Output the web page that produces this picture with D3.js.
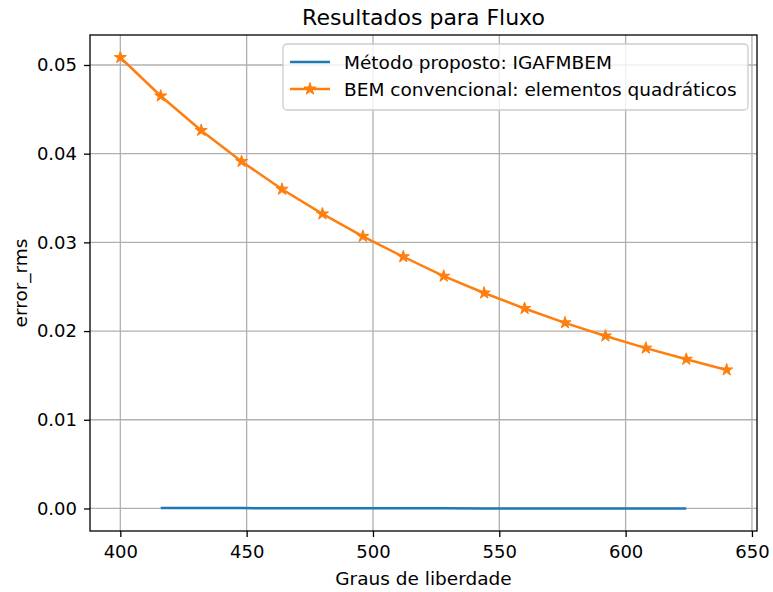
<!DOCTYPE html>
<meta charset="utf-8">
<head>
    <title>Resultados para Fluxo</title>
    <script src="https://d3js.org/d3.v7.min.js"></script>
    <style>
    body { margin: 0; background: #fff; }
    text { font-family: "DejaVu Sans", sans-serif; fill: #000; }
    .grid line { stroke: #b0b0b0; stroke-width: 1.3px; }
    .axis path, .axis line { stroke: #000; stroke-width: 1.3px; }
    .axis text { font-size: 18px; }
    </style>
</head>
<body>
<script>

// data
var dofBem = [400, 416, 432, 448, 464, 480, 496, 512, 528, 544, 560, 576, 592, 608, 624, 640];
var errBem = [0.05084, 0.04650, 0.04262, 0.03912, 0.03599, 0.03321, 0.03068, 0.02838,
              0.02619, 0.02429, 0.02255, 0.02093, 0.01945, 0.01808, 0.01682, 0.01562];
var dofIga = [416, 432, 448, 464, 480, 496, 512, 528, 544, 560, 576, 592, 608, 624];
var errIga = [0.00006, 0.00005, 0.00004, 0.00003, 0.00003, 0.00002, 0.00002,
              0.00002, 0.00001, 0.00001, 0.00001, 0.00001, 0.00001, 0.00001];
var xTicks = [400, 450, 500, 550, 600, 650];
var yTicks = [0, 0.01, 0.02, 0.03, 0.04, 0.05];
var seriesNames = ["Método proposto: IGAFMBEM", "BEM convencional: elementos quadráticos"];

var margin = {top: 35, right: 16, bottom: 61, left: 90},
    width = 773 - margin.left - margin.right,
    height = 592 - margin.top - margin.bottom;

var x = d3.scaleLinear().domain([388, 652]).range([0, width]);
var y = d3.scaleLinear().domain([-0.00254, 0.05338]).range([height, 0]);

var svg = d3.select("body").append("svg")
    .attr("width", 773)
    .attr("height", 592)
  .append("g")
    .attr("transform", "translate(" + margin.left + "," + margin.top + ")");

// grid
svg.append("g").attr("class", "grid")
    .selectAll("line").data(xTicks).enter().append("line")
    .attr("x1", function(d) { return x(d); }).attr("x2", function(d) { return x(d); })
    .attr("y1", 0).attr("y2", height);
svg.append("g").attr("class", "grid")
    .selectAll("line").data(yTicks).enter().append("line")
    .attr("y1", function(d) { return y(d); }).attr("y2", function(d) { return y(d); })
    .attr("x1", 0).attr("x2", width);

var line = d3.line()
    .x(function(d) { return x(d[0]); })
    .y(function(d) { return y(d[1]); });

// blue series
svg.append("path")
    .datum(d3.zip(dofIga, errIga))
    .attr("fill", "none")
    .attr("stroke", "#1f77b4")
    .attr("stroke-width", 2.5)
    .attr("d", line);

// orange series
var bem = d3.zip(dofBem, errBem);
svg.append("path")
    .datum(bem)
    .attr("fill", "none")
    .attr("stroke", "#ff7f0e")
    .attr("stroke-width", 2.5)
    .attr("d", line);

var star = d3.symbol().type(d3.symbolStar).size(46);
svg.selectAll(".star").data(bem).enter().append("path")
    .attr("class", "star")
    .attr("d", star)
    .attr("fill", "#ff7f0e")
    .attr("stroke", "#ff7f0e")
    .attr("stroke-width", 1)
    .attr("transform", function(d) { return "translate(" + x(d[0]) + "," + y(d[1]) + ")"; });

// frame
svg.append("rect")
    .attr("width", width).attr("height", height)
    .attr("fill", "none").attr("stroke", "#000").attr("stroke-width", 1.3);

// axes
svg.append("g")
    .attr("class", "axis")
    .attr("transform", "translate(0," + height + ")")
    .call(d3.axisBottom(x).tickValues(xTicks).tickSize(6).tickPadding(8).tickFormat(d3.format("d")))
    .call(function(g) { g.select(".domain").remove(); });

svg.append("g")
    .attr("class", "axis")
    .call(d3.axisLeft(y).tickValues(yTicks).tickSize(6).tickPadding(7).tickFormat(d3.format(".2f")))
    .call(function(g) { g.select(".domain").remove(); });

// title and labels
svg.append("text")
    .attr("x", width / 2).attr("y", -10)
    .style("text-anchor", "middle")
    .style("font-size", "22px")
    .text("Resultados para Fluxo");

svg.append("text")
    .attr("x", width / 2).attr("y", height + 54)
    .style("text-anchor", "middle")
    .style("font-size", "18.5px")
    .text("Graus de liberdade");

svg.append("text")
    .attr("transform", "rotate(-90)")
    .attr("x", -height / 2).attr("y", -63)
    .style("text-anchor", "middle")
    .style("font-size", "18.5px")
    .text("error_rms");

// legend
var legend = svg.append("g").attr("transform", "translate(" + (width - 474) + ",9)");
legend.append("rect")
    .attr("width", 465).attr("height", 66)
    .attr("rx", 4).attr("ry", 4)
    .attr("fill", "#fff").attr("fill-opacity", 0.8)
    .attr("stroke", "#ccc").attr("stroke-width", 1.3);

var colors = ["#1f77b4", "#ff7f0e"];
seriesNames.forEach(function(name, i) {
  var yy = 18 + i * 27;
  legend.append("line")
      .attr("x1", 7).attr("x2", 47).attr("y1", yy).attr("y2", yy)
      .attr("stroke", colors[i]).attr("stroke-width", 2.5);
  if (i === 1) {
    legend.append("path")
        .attr("d", star)
        .attr("fill", colors[i]).attr("stroke", colors[i]).attr("stroke-width", 1)
        .attr("transform", "translate(27," + yy + ")");
  }
  legend.append("text")
      .attr("x", 61).attr("y", yy + 6.5)
      .style("font-size", "18.5px")
      .text(name);
});

</script>
</body>
